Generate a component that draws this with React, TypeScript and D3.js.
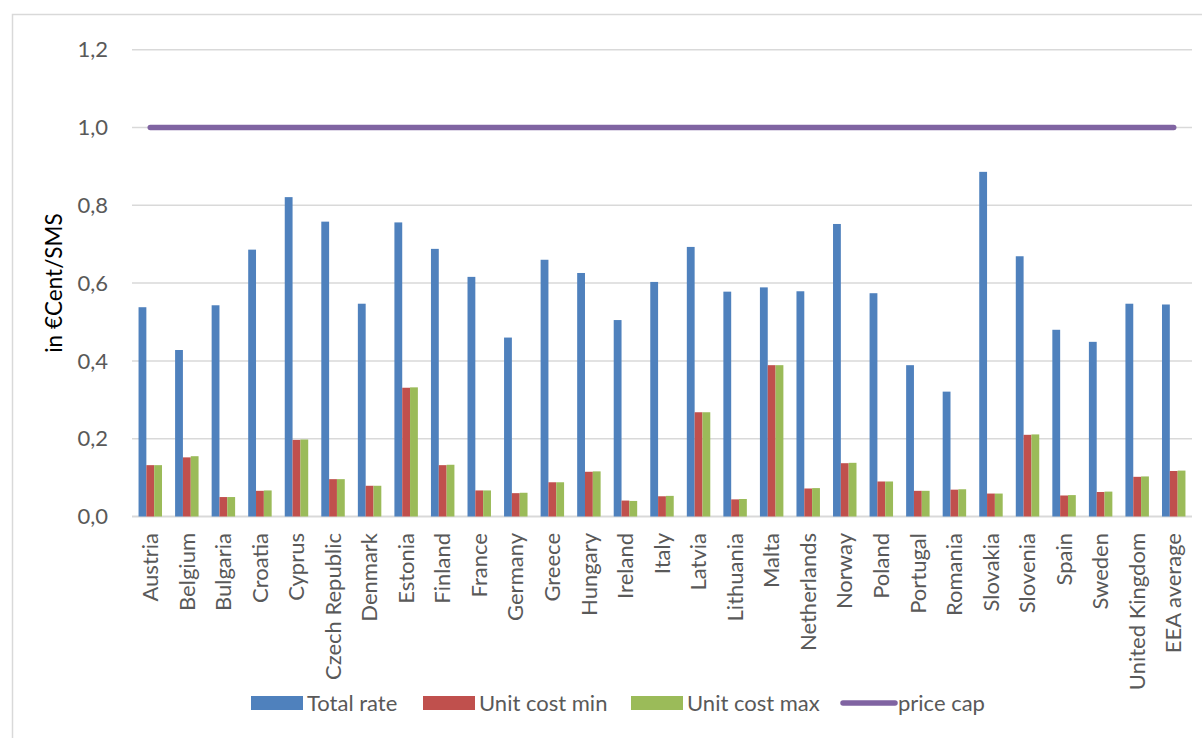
import React from "react";
import * as d3 from "d3";

// Per-country SMS termination figures (€Cent/SMS)
const countries = [
  "Austria", "Belgium", "Bulgaria", "Croatia", "Cyprus", "Czech Republic", "Denmark",
  "Estonia", "Finland", "France", "Germany", "Greece", "Hungary", "Ireland", "Italy",
  "Latvia", "Lithuania", "Malta", "Netherlands", "Norway", "Poland", "Portugal",
  "Romania", "Slovakia", "Slovenia", "Spain", "Sweden", "United Kingdom", "EEA average",
];

const totalRate = [
  0.538, 0.428, 0.543, 0.686, 0.821, 0.758, 0.547, 0.756, 0.688, 0.616, 0.460, 0.660,
  0.626, 0.505, 0.603, 0.693, 0.578, 0.589, 0.579, 0.752, 0.574, 0.389, 0.321, 0.886,
  0.669, 0.480, 0.449, 0.547, 0.545,
];

const unitCostMin = [
  0.132, 0.152, 0.050, 0.066, 0.197, 0.096, 0.079, 0.331, 0.132, 0.067, 0.060, 0.088,
  0.115, 0.041, 0.052, 0.268, 0.044, 0.389, 0.072, 0.137, 0.090, 0.066, 0.069, 0.059,
  0.210, 0.054, 0.063, 0.102, 0.117,
];

const unitCostMax = [
  0.132, 0.155, 0.050, 0.067, 0.198, 0.096, 0.079, 0.332, 0.133, 0.067, 0.061, 0.088,
  0.116, 0.040, 0.053, 0.268, 0.045, 0.389, 0.073, 0.138, 0.090, 0.066, 0.070, 0.059,
  0.211, 0.055, 0.064, 0.103, 0.118,
];

const priceCap = 1.0;

const yTicks = [0, 0.2, 0.4, 0.6, 0.8, 1.0, 1.2];

const seriesNames = ["Total rate", "Unit cost min", "Unit cost max"];
const seriesColors = ["#4F81BD", "#C0504D", "#9BBB59"];
const capName = "price cap";
const capColor = "#8064A2";

const W = 1202;
const H = 738;
const plot = { left: 132, right: 1192, top: 49.7, bottom: 516.5 };
const FONT = "Lato, 'Open Sans', sans-serif";

export default function App() {
  const x = d3
    .scaleBand<string>()
    .domain(countries)
    .range([plot.left, plot.right])
    .paddingInner(0)
    .paddingOuter(0);
  const y = d3.scaleLinear().domain([0, 1.2]).range([plot.bottom, plot.top]);

  const groupW = x.step() * 0.642;
  const inner = d3
    .scaleBand<number>()
    .domain([0, 1, 2])
    .range([0, groupW]);

  const series = [totalRate, unitCostMin, unitCostMax];
  const fmt = (v: number) => d3.format(".1f")(v).replace(".", ",");

  const capLine = d3
    .line<string>()
    .x((c) => (x(c) ?? 0) + x.bandwidth() / 2)
    .y(() => y(priceCap));

  const legendX = [251, 423, 631, 841];
  const legendY = 703;

  return (
    <svg
      width={W}
      height={H}
      style={{ position: "fixed", left: 0, top: 0, background: "#fff" }}
      fontFamily={FONT}
    >
      <rect x={0} y={0} width={W} height={H} fill="#fff" />
      <rect x={12.5} y={14.5} width={W + 20} height={H + 20} fill="none" stroke="#d9d9d9" strokeWidth={1.5} />

      {/* gridlines */}
      {yTicks.map((t) => (
        <line
          key={t}
          x1={plot.left}
          x2={plot.right}
          y1={y(t)}
          y2={y(t)}
          stroke="#d9d9d9"
          strokeWidth={t === 0 ? 2 : 1.5}
        />
      ))}

      {/* y tick labels */}
      {yTicks.map((t) => (
        <text
          key={"l" + t}
          x={108}
          y={y(t)}
          dy="0.35em"
          textAnchor="end"
          fontSize={22}
          fill="#595959"
        >
          {fmt(t)}
        </text>
      ))}

      {/* y axis title */}
      <text
        transform={`translate(62,${(plot.top + plot.bottom) / 2}) rotate(-90)`}
        textAnchor="middle"
        fontSize={22.5}
        fill="#000"
      >
        in €Cent/SMS
      </text>

      {/* bars */}
      {series.map((vals, si) =>
        countries.map((c, i) => {
          const x0 = (x(c) ?? 0) + (x.bandwidth() - groupW) / 2 + (inner(si) ?? 0);
          return (
            <rect
              key={si + "-" + c}
              x={x0}
              y={y(vals[i])}
              width={inner.bandwidth()}
              height={y(0) - y(vals[i])}
              fill={seriesColors[si]}
            />
          );
        })
      )}

      {/* price cap */}
      <path
        d={capLine(countries) ?? ""}
        fill="none"
        stroke={capColor}
        strokeWidth={5.5}
        strokeLinecap="round"
      />

      {/* category labels */}
      {countries.map((c) => (
        <text
          key={"c" + c}
          transform={`translate(${(x(c) ?? 0) + x.bandwidth() / 2},533) rotate(-90)`}
          dy="0.35em"
          textAnchor="end"
          fontSize={22}
          fill="#595959"
        >
          {c}
        </text>
      ))}

      {/* legend */}
      {seriesNames.map((n, i) => (
        <g key={n} transform={`translate(${legendX[i]},${legendY})`}>
          <rect x={0} y={-7} width={52} height={14} fill={seriesColors[i]} />
          <text x={56} y={0} dy="0.35em" fontSize={22} fill="#595959">
            {n}
          </text>
        </g>
      ))}
      <g transform={`translate(${legendX[3]},${legendY})`}>
        <line x1={2} x2={54} y1={0} y2={0} stroke={capColor} strokeWidth={5.5} strokeLinecap="round" />
        <text x={57} y={0} dy="0.35em" fontSize={22} fill="#595959">
          {capName}
        </text>
      </g>
    </svg>
  );
}
